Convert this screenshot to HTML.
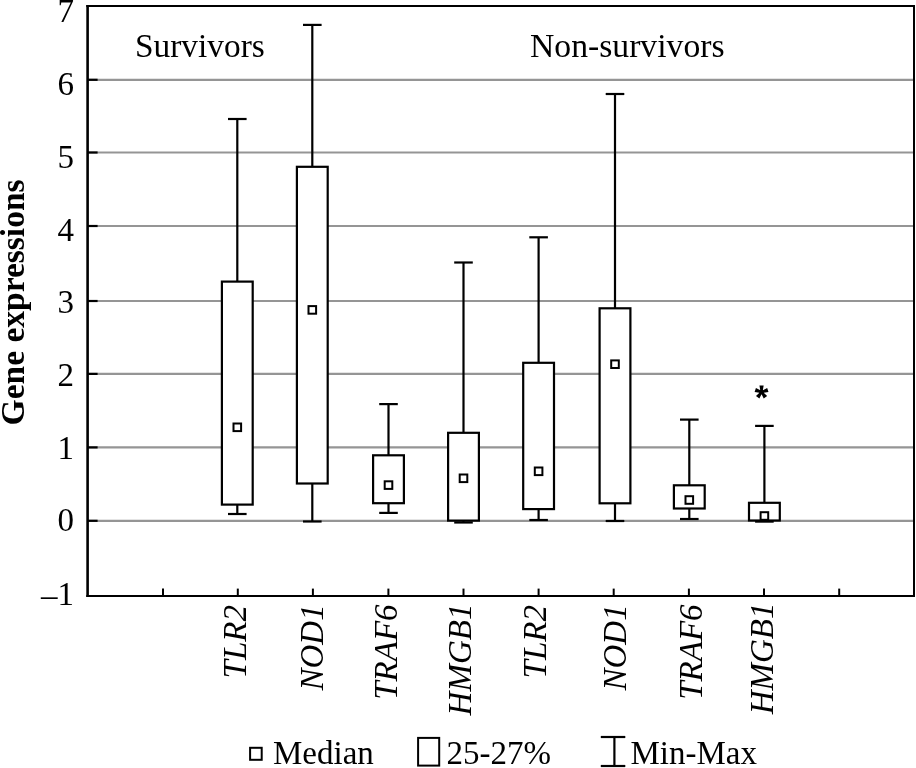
<!DOCTYPE html><html><head><meta charset="utf-8"><style>html,body{margin:0;padding:0;background:#fff;width:916px;height:768px;overflow:hidden}svg{display:block;filter:grayscale(100%)}</style></head><body>
<svg width="916" height="768" viewBox="0 0 916 768">
<rect width="916" height="768" fill="#fff"/>
<line x1="87.6" y1="79.8" x2="914.0" y2="79.8" stroke="#959595" stroke-width="2.2"/>
<line x1="87.6" y1="152.5" x2="914.0" y2="152.5" stroke="#959595" stroke-width="2.2"/>
<line x1="87.6" y1="226.0" x2="914.0" y2="226.0" stroke="#959595" stroke-width="2.2"/>
<line x1="87.6" y1="301.0" x2="914.0" y2="301.0" stroke="#959595" stroke-width="2.2"/>
<line x1="87.6" y1="373.9" x2="914.0" y2="373.9" stroke="#959595" stroke-width="2.2"/>
<line x1="87.6" y1="447.4" x2="914.0" y2="447.4" stroke="#959595" stroke-width="2.2"/>
<line x1="87.6" y1="520.8" x2="914.0" y2="520.8" stroke="#959595" stroke-width="2.2"/>
<line x1="87.6" y1="79.8" x2="97.6" y2="79.8" stroke="#000" stroke-width="2.2"/>
<line x1="87.6" y1="152.5" x2="97.6" y2="152.5" stroke="#000" stroke-width="2.2"/>
<line x1="87.6" y1="226.0" x2="97.6" y2="226.0" stroke="#000" stroke-width="2.2"/>
<line x1="87.6" y1="301.0" x2="97.6" y2="301.0" stroke="#000" stroke-width="2.2"/>
<line x1="87.6" y1="373.9" x2="97.6" y2="373.9" stroke="#000" stroke-width="2.2"/>
<line x1="87.6" y1="447.4" x2="97.6" y2="447.4" stroke="#000" stroke-width="2.2"/>
<line x1="87.6" y1="520.8" x2="97.6" y2="520.8" stroke="#000" stroke-width="2.2"/>
<line x1="163.0" y1="588.6" x2="163.0" y2="596.0" stroke="#000" stroke-width="2"/>
<line x1="237.8" y1="588.6" x2="237.8" y2="596.0" stroke="#000" stroke-width="2"/>
<line x1="312.9" y1="588.6" x2="312.9" y2="596.0" stroke="#000" stroke-width="2"/>
<line x1="388.4" y1="588.6" x2="388.4" y2="596.0" stroke="#000" stroke-width="2"/>
<line x1="463.5" y1="588.6" x2="463.5" y2="596.0" stroke="#000" stroke-width="2"/>
<line x1="538.6" y1="588.6" x2="538.6" y2="596.0" stroke="#000" stroke-width="2"/>
<line x1="613.7" y1="588.6" x2="613.7" y2="596.0" stroke="#000" stroke-width="2"/>
<line x1="688.9" y1="588.6" x2="688.9" y2="596.0" stroke="#000" stroke-width="2"/>
<line x1="764.0" y1="588.6" x2="764.0" y2="596.0" stroke="#000" stroke-width="2"/>
<line x1="839.2" y1="588.6" x2="839.2" y2="596.0" stroke="#000" stroke-width="2"/>
<line x1="237.3" y1="119.0" x2="237.3" y2="514.0" stroke="#000" stroke-width="2.2"/>
<rect x="221.9" y="281.6" width="30.8" height="223.0" fill="#fff" stroke="#000" stroke-width="2.2"/>
<line x1="228.0" y1="119.0" x2="246.60000000000002" y2="119.0" stroke="#000" stroke-width="2.2"/>
<line x1="228.0" y1="514.0" x2="246.60000000000002" y2="514.0" stroke="#000" stroke-width="2.2"/>
<rect x="233.5" y="423.5" width="7.6" height="7.6" fill="#fff" stroke="#000" stroke-width="2"/>
<line x1="312.3" y1="24.9" x2="312.3" y2="521.5" stroke="#000" stroke-width="2.2"/>
<rect x="296.90000000000003" y="166.8" width="30.8" height="316.7" fill="#fff" stroke="#000" stroke-width="2.2"/>
<line x1="303.0" y1="24.9" x2="321.6" y2="24.9" stroke="#000" stroke-width="2.2"/>
<line x1="303.0" y1="521.5" x2="321.6" y2="521.5" stroke="#000" stroke-width="2.2"/>
<rect x="308.5" y="306.09999999999997" width="7.6" height="7.6" fill="#fff" stroke="#000" stroke-width="2"/>
<line x1="388.5" y1="404.1" x2="388.5" y2="512.9" stroke="#000" stroke-width="2.2"/>
<rect x="373.1" y="455.3" width="30.8" height="47.9" fill="#fff" stroke="#000" stroke-width="2.2"/>
<line x1="379.2" y1="404.1" x2="397.8" y2="404.1" stroke="#000" stroke-width="2.2"/>
<line x1="379.2" y1="512.9" x2="397.8" y2="512.9" stroke="#000" stroke-width="2.2"/>
<rect x="384.7" y="481.3" width="7.6" height="7.6" fill="#fff" stroke="#000" stroke-width="2"/>
<line x1="463.5" y1="262.5" x2="463.5" y2="522.5" stroke="#000" stroke-width="2.2"/>
<rect x="448.1" y="432.8" width="30.8" height="87.8" fill="#fff" stroke="#000" stroke-width="2.2"/>
<line x1="454.2" y1="262.5" x2="472.8" y2="262.5" stroke="#000" stroke-width="2.2"/>
<line x1="454.2" y1="522.5" x2="472.8" y2="522.5" stroke="#000" stroke-width="2.2"/>
<rect x="459.7" y="474.5" width="7.6" height="7.6" fill="#fff" stroke="#000" stroke-width="2"/>
<line x1="538.6" y1="237.3" x2="538.6" y2="520.0" stroke="#000" stroke-width="2.2"/>
<rect x="523.2" y="362.8" width="30.8" height="146.3" fill="#fff" stroke="#000" stroke-width="2.2"/>
<line x1="529.3000000000001" y1="237.3" x2="547.9" y2="237.3" stroke="#000" stroke-width="2.2"/>
<line x1="529.3000000000001" y1="520.0" x2="547.9" y2="520.0" stroke="#000" stroke-width="2.2"/>
<rect x="534.8000000000001" y="467.5" width="7.6" height="7.6" fill="#fff" stroke="#000" stroke-width="2"/>
<line x1="615.0" y1="94.0" x2="615.0" y2="521.0" stroke="#000" stroke-width="2.2"/>
<rect x="599.6" y="308.3" width="30.8" height="195.0" fill="#fff" stroke="#000" stroke-width="2.2"/>
<line x1="605.7" y1="94.0" x2="624.3" y2="94.0" stroke="#000" stroke-width="2.2"/>
<line x1="605.7" y1="521.0" x2="624.3" y2="521.0" stroke="#000" stroke-width="2.2"/>
<rect x="611.2" y="360.4" width="7.6" height="7.6" fill="#fff" stroke="#000" stroke-width="2"/>
<line x1="689.3" y1="419.6" x2="689.3" y2="519.0" stroke="#000" stroke-width="2.2"/>
<rect x="673.9" y="485.3" width="30.8" height="23.2" fill="#fff" stroke="#000" stroke-width="2.2"/>
<line x1="680.0" y1="419.6" x2="698.5999999999999" y2="419.6" stroke="#000" stroke-width="2.2"/>
<line x1="680.0" y1="519.0" x2="698.5999999999999" y2="519.0" stroke="#000" stroke-width="2.2"/>
<rect x="685.5" y="496.2" width="7.6" height="7.6" fill="#fff" stroke="#000" stroke-width="2"/>
<line x1="764.4" y1="425.9" x2="764.4" y2="521.6" stroke="#000" stroke-width="2.2"/>
<rect x="749.0" y="502.8" width="30.8" height="17.7" fill="#fff" stroke="#000" stroke-width="2.2"/>
<line x1="755.1" y1="425.9" x2="773.6999999999999" y2="425.9" stroke="#000" stroke-width="2.2"/>
<line x1="755.1" y1="521.6" x2="773.6999999999999" y2="521.6" stroke="#000" stroke-width="2.2"/>
<rect x="760.6" y="512.2" width="7.6" height="7.6" fill="#fff" stroke="#000" stroke-width="2"/>
<line x1="87.6" y1="4.9" x2="87.6" y2="597.1" stroke="#000" stroke-width="2.6"/>
<line x1="86.3" y1="6.0" x2="915.0" y2="6.0" stroke="#000" stroke-width="2.1"/>
<line x1="914.0" y1="5.0" x2="914.0" y2="597.0" stroke="#000" stroke-width="2"/>
<line x1="86.3" y1="596.0" x2="915.0" y2="596.0" stroke="#000" stroke-width="2.1"/>
<text x="74" y="21.8" text-anchor="end" font-family="Liberation Serif" font-size="33">7</text>
<text x="74" y="94.7" text-anchor="end" font-family="Liberation Serif" font-size="33">6</text>
<text x="74" y="167.6" text-anchor="end" font-family="Liberation Serif" font-size="33">5</text>
<text x="74" y="240.7" text-anchor="end" font-family="Liberation Serif" font-size="33">4</text>
<text x="74" y="312.7" text-anchor="end" font-family="Liberation Serif" font-size="33">3</text>
<text x="74" y="385.8" text-anchor="end" font-family="Liberation Serif" font-size="33">2</text>
<text x="74" y="459.0" text-anchor="end" font-family="Liberation Serif" font-size="33">1</text>
<text x="74" y="531.3" text-anchor="end" font-family="Liberation Serif" font-size="33">0</text>
<text x="74" y="605.0" text-anchor="end" font-family="Liberation Serif" font-size="33"><tspan dy="1">–</tspan><tspan dy="-1">1</tspan></text>
<text transform="translate(24.2,302.4) rotate(-90)" text-anchor="middle" font-family="Liberation Serif" font-weight="bold" font-size="33.5">Gene expressions</text>
<text transform="translate(135,56.8) scale(1.011,1)" font-family="Liberation Serif" font-size="33">Survivors</text>
<text transform="translate(530,56.6) scale(1.021,1)" font-family="Liberation Serif" font-size="33">Non-survivors</text>
<text transform="translate(246.3,605) rotate(-90)" text-anchor="end" font-family="Liberation Serif" font-style="italic" font-size="33">TLR2</text>
<text transform="translate(323.4,604.35) rotate(-90)" text-anchor="end" font-family="Liberation Serif" font-style="italic" font-size="33">NOD1</text>
<text transform="translate(396.5,604.4) rotate(-90)" text-anchor="end" font-family="Liberation Serif" font-style="italic" font-size="33">TRAF6</text>
<text transform="translate(471.4,603.6) rotate(-90)" text-anchor="end" font-family="Liberation Serif" font-style="italic" font-size="33">HMGB1</text>
<text transform="translate(545.7,605) rotate(-90)" text-anchor="end" font-family="Liberation Serif" font-style="italic" font-size="33">TLR2</text>
<text transform="translate(625.9,604.35) rotate(-90)" text-anchor="end" font-family="Liberation Serif" font-style="italic" font-size="33">NOD1</text>
<text transform="translate(701.6,604.4) rotate(-90)" text-anchor="end" font-family="Liberation Serif" font-style="italic" font-size="33">TRAF6</text>
<text transform="translate(773.15,602.5) rotate(-90)" text-anchor="end" font-family="Liberation Serif" font-style="italic" font-size="33">HMGB1</text>
<path d="M762.55,392.00 L763.65,385.40 L759.45,385.40 L760.55,392.00 Z M761.86,391.05 L755.92,387.96 L754.62,391.96 L761.24,392.95 Z M760.74,391.41 L755.97,396.11 L759.37,398.57 L762.36,392.59 Z M760.74,392.59 L763.73,398.57 L767.13,396.11 L762.36,391.41 Z M761.86,392.95 L768.48,391.96 L767.18,387.96 L761.24,391.05 Z" fill="#000"/>
<circle cx="761.55" cy="392.0" r="2.2" fill="#000"/>
<rect x="250.1" y="747.8" width="11.6" height="12" fill="#fff" stroke="#000" stroke-width="2"/>
<text x="273" y="763.8" font-family="Liberation Serif" font-size="33">Median</text>
<rect x="418.1" y="737.9" width="21.1" height="27.7" fill="#fff" stroke="#000" stroke-width="2"/>
<text x="446.5" y="763.8" font-family="Liberation Serif" font-size="33">25-27%</text>
<line x1="600.8" y1="737" x2="625.3" y2="737" stroke="#000" stroke-width="2.2"/>
<line x1="600.8" y1="766" x2="625.3" y2="766" stroke="#000" stroke-width="2.2"/>
<line x1="614.4" y1="737" x2="614.4" y2="766" stroke="#000" stroke-width="2.2"/>
<text x="630.5" y="764.4" font-family="Liberation Serif" font-size="33">Min-Max</text>
</svg></body></html>
